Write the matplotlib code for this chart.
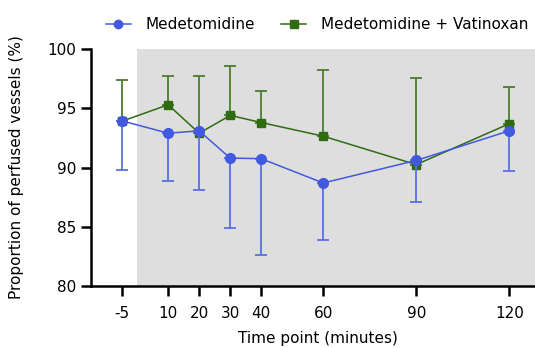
import matplotlib.pyplot as plt
from matplotlib.lines import Line2D
import numpy as np

plt.rcParams['axes.unicode_minus'] = False

time_points = [-5, 10, 20, 30, 40, 60, 90, 120]

med_mean = [93.95, 92.9, 93.1, 90.8, 90.75, 88.7, 90.6, 93.1]
med_lower = [89.8, 88.9, 88.1, 84.9, 82.65, 83.9, 87.1, 89.75]

vat_mean = [93.9, 95.3, 92.9, 94.4, 93.8, 92.65, 90.25, 93.7]
vat_upper = [97.4, 97.75, 97.75, 98.6, 96.5, 98.2, 97.6, 96.8]

y_ticks = [80, 85, 90, 95, 100]

blue = '#4258e0'
green = '#306b12'

fig = plt.figure(figsize=(5.35, 3.48), dpi=100)
ax = fig.add_axes([0.170, 0.178, 0.83, 0.681])

ax.axvspan(0, 140, color='#dedede', zorder=0, lw=0)

x = np.array(time_points)
vm = np.array(vat_mean)
mm = np.array(med_mean)

ax.errorbar(x, vm, yerr=[np.zeros_like(vm), np.array(vat_upper) - vm],
            color=green, ecolor='#4a7d30', elinewidth=1.3, capsize=4, capthick=1.3,
            marker='s', markersize=6.2, lw=1.1, zorder=3)
ax.errorbar(x, mm, yerr=[mm - np.array(med_lower), np.zeros_like(mm)],
            color=blue, ecolor='#5a6fe6', elinewidth=1.3, capsize=4, capthick=1.3,
            marker='o', markersize=7, lw=1.1, zorder=4)

ax.set_xlim(-14.9, 128.3)
ax.set_ylim(80, 100)
ax.set_xticks(time_points)
ax.set_yticks(y_ticks)
ax.tick_params(labelsize=11, width=1.8, length=7, direction='out')
ax.tick_params(axis='x', pad=7)

for side in ['top', 'right']:
    ax.spines[side].set_visible(False)
for side in ['left', 'bottom']:
    ax.spines[side].set_linewidth(1.8)

ax.set_xlabel('Time point (minutes)', fontsize=11)
ax.set_ylabel('Proportion of perfused vessels (%)', fontsize=11)
ax.xaxis.set_label_coords(0.511, -0.19)
ax.yaxis.set_label_coords(-0.151, 0.5)

handles = [
    Line2D([], [], color=blue, marker='o', markersize=6, lw=1.1),
    Line2D([], [], color=green, marker='s', markersize=5.5, lw=1.1),
]
fig.legend(handles, ['Medetomidine', 'Medetomidine + Vatinoxan'], loc='center',
           ncol=2, frameon=False, fontsize=11, bbox_to_anchor=(0.593, 0.93),
           handlelength=1.6, handletextpad=1.0, columnspacing=1.7)

fig.savefig('out.png', dpi=100)
